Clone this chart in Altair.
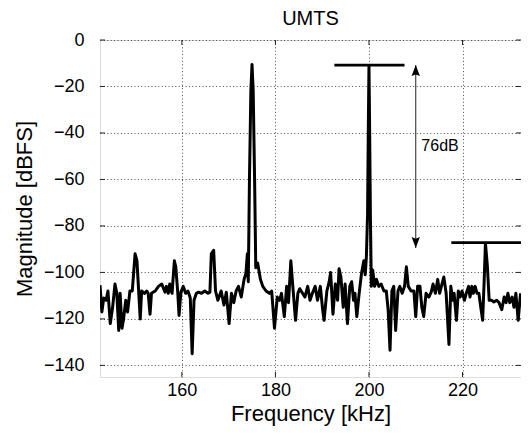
import altair as alt
import pandas as pd

# Spectrum trace (frequency in kHz, magnitude in dBFS)
freq = [142.5, 142.9, 143.3, 143.8, 144.2, 144.7, 145.2, 145.7, 146.1, 146.5,
        146.8, 147.2, 147.5, 148.0, 148.4, 148.9, 149.4, 150.0, 150.4, 151.1,
        151.4, 152.0, 152.5, 152.8, 153.2, 153.5, 154.3, 155.0, 155.7, 156.4,
        156.7, 157.1, 157.4, 157.9, 158.4, 158.7, 159.1, 159.4, 159.8, 160.3,
        160.8, 161.3, 161.8, 162.2, 162.6, 163.1, 163.6, 164.2, 164.9, 165.6,
        166.0, 166.3, 166.8, 167.2, 167.7, 168.4, 169.0, 169.5, 170.1, 170.6,
        171.1, 171.6, 172.1, 172.7, 173.3, 173.7, 174.0, 174.2, 174.45, 174.75,
        175.0, 175.25, 175.55, 175.8, 176.2, 176.8, 177.3, 178.0, 178.7, 179.2,
        179.8, 180.4, 180.9, 181.3, 181.9, 182.4, 182.8, 183.3, 183.8, 184.3,
        184.8, 185.2, 185.8, 186.3, 186.9, 187.4, 187.9, 188.5, 189.0, 189.6,
        190.1, 190.4, 191.0, 191.5, 191.8, 192.3, 192.8, 193.3, 193.6, 194.0,
        194.5, 194.9, 195.4, 195.9, 196.3, 196.7, 197.0, 197.4, 197.9, 198.4,
        198.9, 199.2, 199.45, 199.7, 199.85, 200.0, 200.15, 200.3, 200.5, 200.8,
        201.2, 201.6, 202.1, 202.6, 203.2, 203.7, 204.1, 204.5, 204.9, 205.3,
        205.7, 206.2, 206.6, 207.1, 207.6, 208.0, 208.4, 209.0, 209.6, 210.0,
        210.4, 210.9, 211.3, 211.7, 212.2, 212.8, 213.3, 213.7, 214.2, 214.7,
        215.1, 215.6, 216.0, 216.5, 217.1, 217.5, 217.9, 218.2, 218.7, 219.1,
        219.5, 219.9, 220.4, 220.8, 221.3, 221.6, 222.0, 222.3, 222.7, 223.1,
        223.5, 223.9, 224.3, 224.6, 224.9, 225.3, 225.7, 226.2, 226.7, 227.3,
        227.8, 228.4, 228.9, 229.3, 229.7, 230.1, 230.6, 231.0, 231.4, 231.9,
        232.4]
mag = [-105.5, -117, -111, -112, -108, -122, -115, -105, -109, -125,
       -109, -124, -120.6, -112, -117, -108, -108, -92, -95, -120,
       -108, -109, -108, -109, -118, -109, -108, -106, -105, -108.5,
       -106, -109, -105, -109, -95, -97.6, -108, -118.5, -108.5, -106,
       -109, -108, -111, -135, -112, -109, -108.5, -109, -108, -109,
       -108.5, -92, -90.5, -108, -112, -108, -114, -108.5, -122, -109,
       -113, -108, -106, -110.6, -103, -100.5, -92, -104, -60, -22,
       -10.5, -22, -60, -98, -96, -103, -106, -108, -109, -108,
       -124, -110.6, -112, -109, -119, -106, -113, -95, -108, -120.6,
       -109, -107, -109, -110.6, -106, -112, -109, -106, -112, -106,
       -116, -120.6, -108, -104, -100, -118, -105, -112, -98.4, -102,
       -115, -105, -122, -106, -104, -112, -109, -119, -109, -100.5,
       -95, -101, -93, -75, -40, -11, -40, -75, -106, -99,
       -106, -103, -106, -105, -108, -108, -116, -133.5, -108, -106,
       -125, -108, -106, -109, -106, -97.6, -106, -108, -108, -119,
       -106, -106, -115, -119, -109, -110.6, -108.5, -105, -109, -103,
       -109, -105, -102, -109, -131, -106, -112, -109, -120.6, -108,
       -110.6, -108, -112, -109, -106, -110.6, -106, -109, -106, -109,
       -109, -115, -120.6, -105, -87.5, -97, -112, -112, -112.7, -112,
       -113, -116, -110.6, -113, -109, -113, -110.6, -115, -109, -120.6,
       -109]

x_ticks = [160, 180, 200, 220]
y_ticks = [-140, -120, -100, -80, -60, -40, -20, 0]
x_domain = [142.5, 232.5]
y_domain = [-145, 0]

title_text = ["UMTS"]

# Annotations
hline_x1 = [192.6, 217.6]
hline_x2 = [207.6, 232.5]
hline_y = [-10.8, -87.2]
arrow_x = [210.0]
arrow_top = [-10.8]
arrow_bottom = [-89.5]
label_text = ["76dB"]
label_x = [211.2]
label_y = [-45.5]

FONT = "Liberation Sans"
W = 421
H = 337
TL = 5

spec_df = pd.DataFrame({"f": freq, "m": mag})
xs = alt.Scale(domain=x_domain, nice=False, zero=False)
ys = alt.Scale(domain=y_domain, nice=False, zero=False)

x_axis = alt.Axis(values=x_ticks, title="Frequency [kHz]", grid=True,
                  gridDash=[1, 2.4], gridColor="#000", gridOpacity=0.7,
                  domain=False, ticks=False, labelFontSize=18, labelPadding=4,
                  titleFontSize=22, titleFontWeight="normal", titlePadding=4,
                  labelFont=FONT, titleFont=FONT, labelColor="#000", titleColor="#000")
y_axis = alt.Axis(values=y_ticks, title="Magnitude [dBFS]", grid=True,
                  gridDash=[1, 2.4], gridColor="#000", gridOpacity=0.7,
                  domain=False, ticks=False, labelFontSize=18, labelPadding=16,
                  titleFontSize=22, titleFontWeight="normal", titlePadding=7,
                  labelFont=FONT, titleFont=FONT, labelColor="#000", titleColor="#000")

line = alt.Chart(spec_df).mark_line(color="#000", strokeWidth=3, strokeJoin="round", clip=True).encode(
    x=alt.X("f:Q", scale=xs, axis=x_axis),
    y=alt.Y("m:Q", scale=ys, axis=y_axis),
)

hl_df = pd.DataFrame({"x1": hline_x1, "x2": hline_x2, "y": hline_y})
hlines = alt.Chart(hl_df).mark_rule(color="#000", strokeWidth=2.8, clip=True).encode(
    x=alt.X("x1:Q", scale=xs), x2="x2:Q", y=alt.Y("y:Q", scale=ys))

ar_df = pd.DataFrame({"x": arrow_x, "y1": arrow_top, "y2": arrow_bottom})
arrow_line = alt.Chart(ar_df).mark_rule(color="#222", strokeWidth=1).encode(
    x=alt.X("x:Q", scale=xs), y=alt.Y("y1:Q", scale=ys), y2="y2:Q")
head_up = alt.Chart(ar_df).mark_point(
    shape="M0,0 L-0.38,1 L0,0.85 L0.38,1 Z", size=480, filled=True, color="#000", opacity=1).encode(
    x=alt.X("x:Q", scale=xs), y=alt.Y("y1:Q", scale=ys))
head_down = alt.Chart(ar_df).mark_point(
    shape="M0,0 L-0.38,-1 L0,-0.85 L0.38,-1 Z", size=480, filled=True, color="#000", opacity=1).encode(
    x=alt.X("x:Q", scale=xs), y=alt.Y("y2:Q", scale=ys))

lab_df = pd.DataFrame({"t": label_text, "x": label_x, "y": label_y})
label = alt.Chart(lab_df).mark_text(align="left", baseline="middle", fontSize=16, font=FONT, color="#000").encode(
    x=alt.X("x:Q", scale=xs), y=alt.Y("y:Q", scale=ys), text="t:N")

title_df = pd.DataFrame({"t": title_text})
title = alt.Chart(title_df).mark_text(align="center", baseline="alphabetic", fontSize=20, font=FONT, color="#000").encode(
    x=alt.value(W / 2), y=alt.value(-15), text="t:N")

# inward tick marks (MATLAB style box)
xt_df = pd.DataFrame({"v": x_ticks})
yt_df = pd.DataFrame({"v": y_ticks})
xt_bottom = alt.Chart(xt_df).mark_rule(color="#222", strokeWidth=1).encode(
    x=alt.X("v:Q", scale=xs), y=alt.value(H), y2=alt.value(H - TL))
xt_top = alt.Chart(xt_df).mark_rule(color="#222", strokeWidth=1).encode(
    x=alt.X("v:Q", scale=xs), y=alt.value(0), y2=alt.value(TL))
yt_left = alt.Chart(yt_df).mark_rule(color="#222", strokeWidth=1).encode(
    y=alt.Y("v:Q", scale=ys), x=alt.value(0), x2=alt.value(TL))
yt_right = alt.Chart(yt_df).mark_rule(color="#222", strokeWidth=1).encode(
    y=alt.Y("v:Q", scale=ys), x=alt.value(W), x2=alt.value(W - TL))

chart = alt.layer(
    xt_bottom, xt_top, yt_left, yt_right,
    line, hlines, arrow_line, head_up, head_down, label, title
).properties(
    width=W, height=H,
    autosize=alt.AutoSizeParams(type="none"),
    padding={"left": 92, "top": 32, "right": 0, "bottom": 49},
).configure_view(
    stroke="#222", strokeWidth=1.2
).configure(background="white")

chart.save("out.html", embed_options={"renderer": "svg", "actions": False})
